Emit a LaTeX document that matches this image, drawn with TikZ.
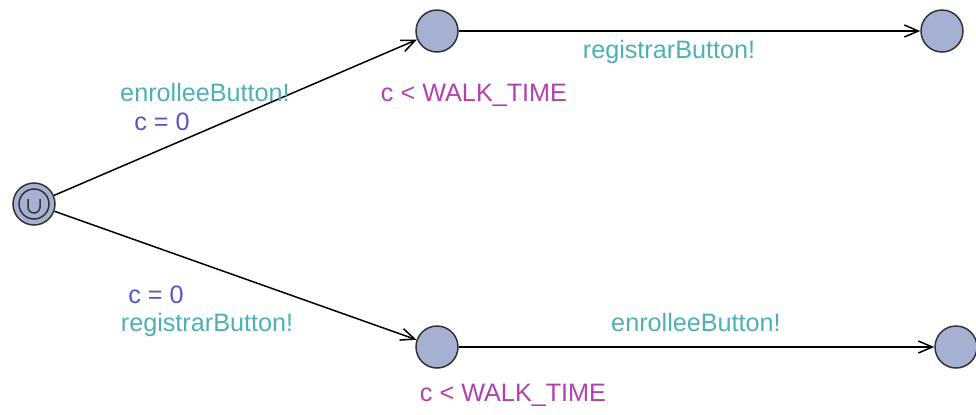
\documentclass[tikz,border=0pt]{standalone}
\usepackage{fontspec}
\setmainfont{Liberation Sans}
\usepackage{tikz}
\usetikzlibrary{arrows.meta,positioning}
\usepackage{xcolor}
\definecolor{locfill}{RGB}{166,176,210}
\definecolor{synccol}{RGB}{78,176,178}
\definecolor{assigncol}{RGB}{85,85,195}
\definecolor{invcol}{RGB}{176,64,176}

\begin{document}
\begin{tikzpicture}[x=0.5pt,y=0.5pt,line width=0.75pt]
	\useasboundingbox (0,0) rectangle (976,-414);
	% locations
	\begin{scope}[every node/.style={circle,draw=black!80,fill=locfill,minimum size=21pt,inner sep=0pt}]
		\node (0) at (34,-204) {};
		\node (1) at (437,-31) {};
		\node (2) at (942,-31) {};
		\node (3) at (437,-347) {};
		\node (4) at (956,-347) {};
	\end{scope}
	% initial and urgent marks
	\draw[black!80] (0) circle[radius=15];
	\draw[black!80] ([shift={(-6,5)}]0.center) -- ++(0,-8) arc[start angle=180,end angle=360,radius=6] -- ++(0,8);
	\begin{scope}[every edge/.style={draw,-{Straight Barb[length=7pt,width=6pt]}}]
		\draw (0) edge (1);
		\draw (0) edge (3);
		\draw (1) edge (2);
		\draw (3) edge (4);
	\end{scope}
	% labels
	\begin{scope}[every node/.style={anchor=base,font=\fontsize{12.6pt}{15pt}\selectfont}]
		\node[synccol] (s1) at (205,-101) {enrolleeButton!};
		\node[assigncol] (u1) at (162,-130) {c = 0};
		\node[invcol] (i1) at (474,-101) {c < WALK\_TIME};
		\node[synccol] (s2) at (669,-58) {registrarButton!};
		\node[assigncol] (u2) at (156,-303) {c = 0};
		\node[synccol] (s3) at (207,-331) {registrarButton!};
		\node[synccol] (s4) at (696,-331) {enrolleeButton!};
		\node[invcol] (i2) at (513,-401) {c < WALK\_TIME};
	\end{scope}
\end{tikzpicture}
\end{document}
